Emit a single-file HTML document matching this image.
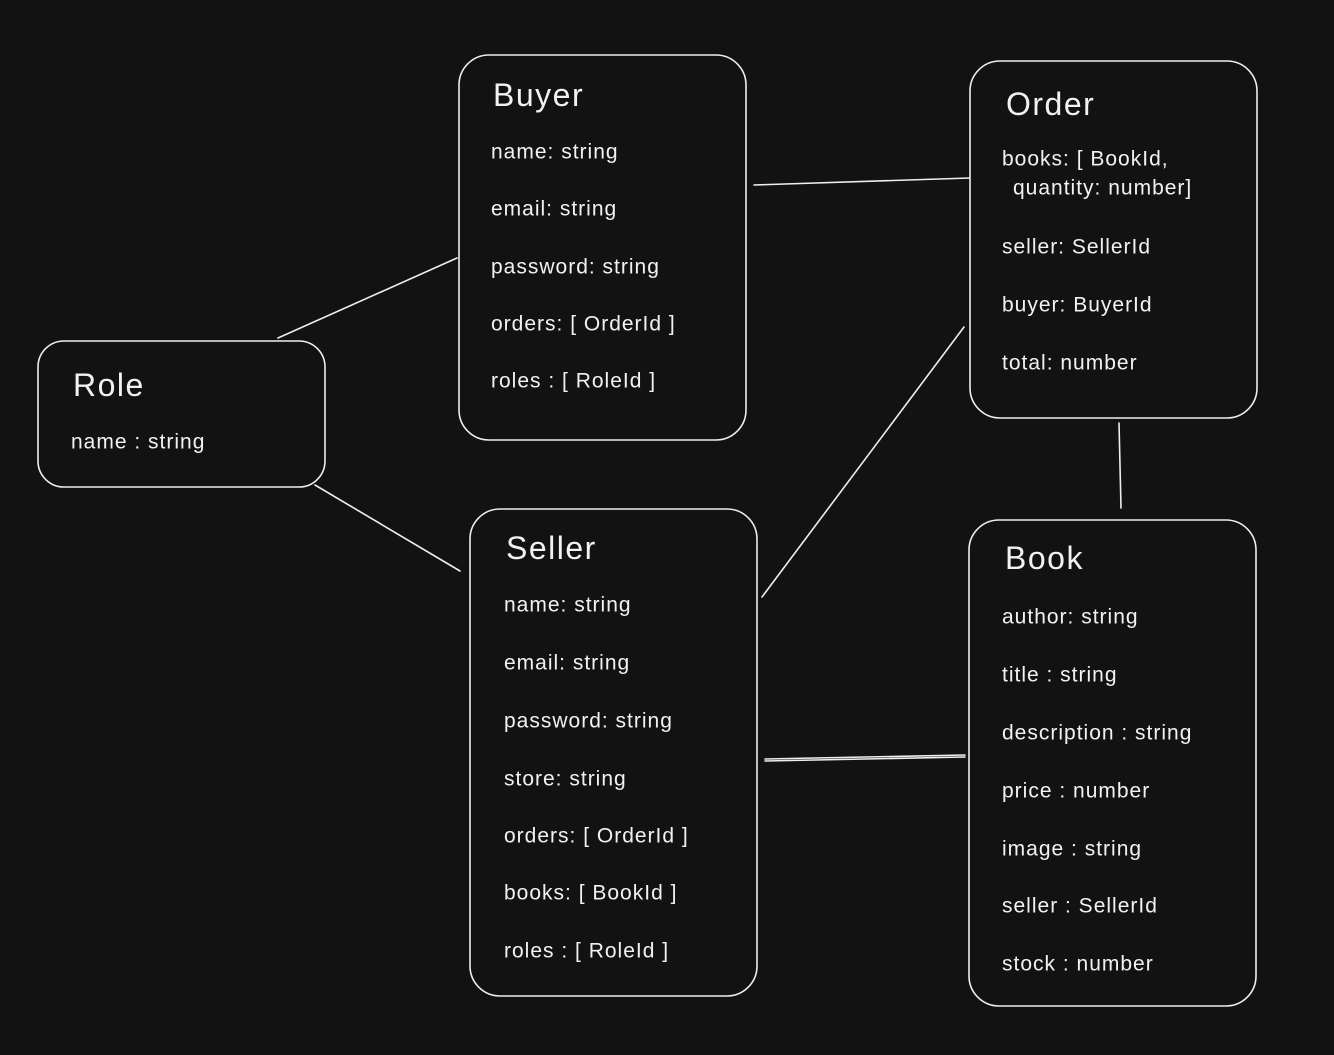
<!DOCTYPE html>
<html><head><meta charset="utf-8"><style>
html,body{margin:0;padding:0;background:#121212;}
svg{display:block}
text{font-family:"Liberation Sans",sans-serif;fill:#f2f2f2;dominant-baseline:central}
.t{font-size:32px;letter-spacing:1.5px}
.f{font-size:21px;letter-spacing:1px}
</style></head><body>
<svg width="1334" height="1055" viewBox="0 0 1334 1055" xmlns="http://www.w3.org/2000/svg">
<rect width="1334" height="1055" fill="#121212"/>
<g fill="none" stroke="#eeeeee" stroke-width="1.6" stroke-linecap="round">
<rect x="459" y="55" width="287" height="385" rx="30"/>
<rect x="970" y="61" width="287" height="357" rx="30"/>
<rect x="38" y="341" width="287" height="146" rx="26"/>
<rect x="470" y="509" width="287" height="487" rx="30"/>
<rect x="969" y="520" width="287" height="486" rx="30"/>
<line x1="278" y1="338" x2="457" y2="258"/>
<line x1="315" y1="485" x2="460" y2="571"/>
<line x1="754" y1="185" x2="970" y2="178"/>
<line x1="762" y1="597" x2="964" y2="327"/>
<line x1="1119" y1="423" x2="1121" y2="508"/>
<line x1="765" y1="759" x2="965" y2="755"/>
<line x1="765" y1="761" x2="965" y2="757"/>
</g>
<text class="t" x="493" y="95">Buyer</text>
<text class="f" x="491" y="152">name: string</text>
<text class="f" x="491" y="209">email: string</text>
<text class="f" x="491" y="267">password: string</text>
<text class="f" x="491" y="324">orders: [ OrderId ]</text>
<text class="f" x="491" y="381">roles : [ RoleId ]</text>

<text class="t" x="1006" y="104">Order</text>
<text class="f" x="1002" y="159">books: [ BookId,</text>
<text class="f" x="1013" y="188">quantity: number]</text>
<text class="f" x="1002" y="247">seller: SellerId</text>
<text class="f" x="1002" y="305">buyer: BuyerId</text>
<text class="f" x="1002" y="363">total: number</text>

<text class="t" x="73" y="385">Role</text>
<text class="f" x="71" y="442">name : string</text>

<text class="t" x="506" y="548">Seller</text>
<text class="f" x="504" y="605">name: string</text>
<text class="f" x="504" y="663">email: string</text>
<text class="f" x="504" y="721">password: string</text>
<text class="f" x="504" y="779">store: string</text>
<text class="f" x="504" y="836">orders: [ OrderId ]</text>
<text class="f" x="504" y="893">books: [ BookId ]</text>
<text class="f" x="504" y="951">roles : [ RoleId ]</text>

<text class="t" x="1005" y="558">Book</text>
<text class="f" x="1002" y="617">author: string</text>
<text class="f" x="1002" y="675">title : string</text>
<text class="f" x="1002" y="733">description : string</text>
<text class="f" x="1002" y="791">price : number</text>
<text class="f" x="1002" y="849">image : string</text>
<text class="f" x="1002" y="906">seller : SellerId</text>
<text class="f" x="1002" y="964">stock : number</text>
</svg>
</body></html>
